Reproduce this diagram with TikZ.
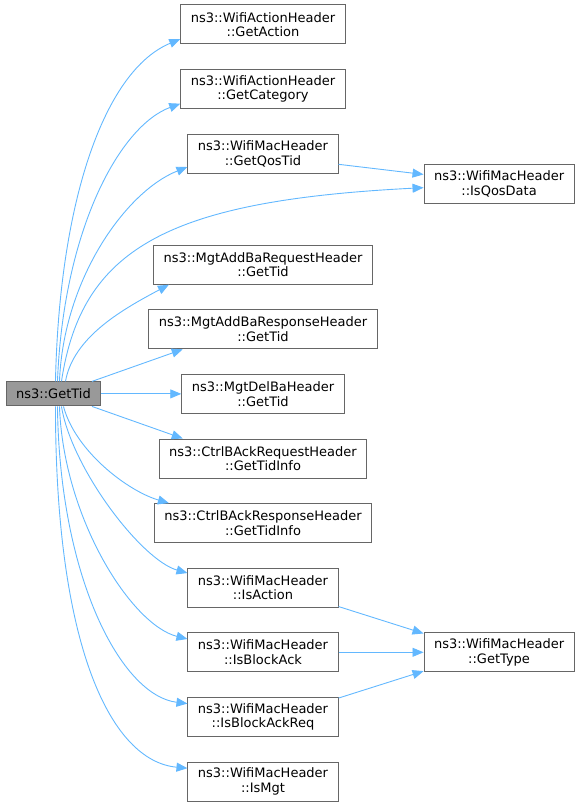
\documentclass[tikz,border=0pt]{standalone}
\usepackage{fontspec}
\setmainfont{DejaVu Sans}
\definecolor{EdgeBlue}{RGB}{99,184,255}
\definecolor{BoxGrey} {RGB}{102,102,102}
\definecolor{RootFill}{RGB}{153,153,153}
\usetikzlibrary{arrows.meta,positioning}

\begin{document}
\begin{tikzpicture}[x=1pt,y=-1pt,node distance=24.6pt,
  fn/.style={draw=BoxGrey,fill=white,line width=1pt,
             minimum height=39pt,inner xsep=10pt,inner ysep=3pt,
             align=center,font=\fontsize{13}{14.5}\selectfont},
  root/.style={fn,fill=RootFill,minimum height=24pt},
  call/.style={-{Triangle[length=11pt,width=9pt]},EdgeBlue,line width=0.9pt}]
  \useasboundingbox (0,0) rectangle (585,805);
  \node[fn](GA) at (263,24.5){ns3::WifiActionHeader\\::GetAction};
  \node[fn,below=of GA](GC){ns3::WifiActionHeader\\::GetCategory};
  \node[fn,below=of GC](QT){ns3::WifiMacHeader\\::GetQosTid};
  \node[fn,right=85pt of QT,yshift=-30pt](QD){ns3::WifiMacHeader\\::IsQosData};
  \node[fn,below=71pt of QT](ABQ){ns3::MgtAddBaRequestHeader\\::GetTid};
  \node[fn,below=of ABQ](ABR){ns3::MgtAddBaResponseHeader\\::GetTid};
  \node[fn,below=of ABR](DBA){ns3::MgtDelBaHeader\\::GetTid};
  \node[fn,below=of DBA](CBQ){ns3::CtrlBAckRequestHeader\\::GetTidInfo};
  \node[fn,below=of CBQ](CBR){ns3::CtrlBAckResponseHeader\\::GetTidInfo};
  \node[fn,below=of CBR](IA){ns3::WifiMacHeader\\::IsAction};
  \node[fn,below=of IA](IBA){ns3::WifiMacHeader\\::IsBlockAck};
  \node[fn,below=of IBA](IBR){ns3::WifiMacHeader\\::IsBlockAckReq};
  \node[fn,below=of IBR](IM){ns3::WifiMacHeader\\::IsMgt};
  \node[fn,right=85pt of IBA](TY){ns3::WifiMacHeader\\::GetType};
  \node[root,left=80pt of DBA](TID){ns3::GetTid};
  % calls going up
  \draw[call]([xshift=2pt]TID.north) .. controls +(4,-183) and +(-75,31) .. (GA.190);
  \draw[call]([xshift=4pt]TID.north) .. controls +(6,-153) and +(-60,22) .. (GC.190);
  \draw[call]([xshift=6pt]TID.north) .. controls +(4,-103) and +(-61,24) .. (QT.190);
  \draw[call]([xshift=8pt]TID.north) .. controls +(20,-133) and +(-256,13) .. (QD.183);
  \draw[call]([xshift=12pt]TID.north) .. controls +(8,-45) and +(-45,24) .. (ABQ.192);
  \draw[call](TID.18)--(ABR.194);
  \draw[call](TID)--(DBA);
  % calls going down
  \draw[call](TID.-18)--(CBQ.166);
  \draw[call]([xshift=10pt]TID.south) .. controls +(12,45) and +(-41,-12) .. (CBR.168);
  \draw[call]([xshift=8pt]TID.south) .. controls +(10,62) and +(-46,-13) .. (IA.169);
  \draw[call]([xshift=6pt]TID.south) .. controls +(4,112) and +(-56,-14) .. (IBA.170);
  \draw[call]([xshift=4pt]TID.south) .. controls +(2,172) and +(-66,-8) .. (IBR.170);
  \draw[call]([xshift=2pt]TID.south) .. controls +(0,242) and +(-76,-7) .. (IM.170);
  % second level
  \draw[call](QT.-8)--(QD.173);
  \draw[call](IA.-14)--(TY.166);
  \draw[call](IBA)--(TY);
  \draw[call](IBR.14)--(TY.194);
\end{tikzpicture}
\end{document}
